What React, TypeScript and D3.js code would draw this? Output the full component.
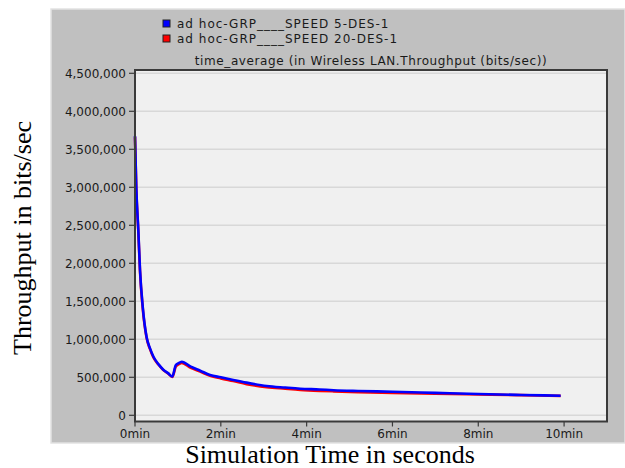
import React from "react";
import * as d3 from "d3";

const timesMin = [0, 0.03, 0.077, 0.117, 0.18, 0.27, 0.35, 0.43, 0.55, 0.66, 0.77, 0.87, 0.95, 1.0, 1.09, 1.3, 1.52, 1.75, 2.0, 2.29, 2.6, 3.07, 3.5, 3.85, 4.3, 4.63, 5.2, 6.0, 7.0, 8.0, 9.0, 9.92];
const speed5 = [3.675, 3.0, 2.44, 1.91, 1.43, 1.03, 0.88, 0.77, 0.67, 0.6, 0.555, 0.51, 0.66, 0.68, 0.705, 0.64, 0.587, 0.53, 0.5, 0.465, 0.43, 0.386, 0.365, 0.35, 0.34, 0.33, 0.32, 0.31, 0.295, 0.28, 0.268, 0.258];
const speed20 = [3.66, 2.98, 2.42, 1.89, 1.41, 1.02, 0.87, 0.76, 0.665, 0.595, 0.55, 0.505, 0.64, 0.665, 0.69, 0.625, 0.575, 0.52, 0.485, 0.45, 0.41, 0.37, 0.35, 0.335, 0.322, 0.315, 0.305, 0.295, 0.285, 0.275, 0.265, 0.255];
const yTicks = [0, 500000, 1000000, 1500000, 2000000, 2500000, 3000000, 3500000, 4000000, 4500000];
const xTicks = [0, 2, 4, 6, 8, 10];
const seriesNames = ["ad hoc-GRP____SPEED 5-DES-1", "ad hoc-GRP____SPEED 20-DES-1"];
const seriesColors = ["#0000ff", "#ff0000"];
const chartTitle = "time_average (in Wireless LAN.Throughput (bits/sec))";

export default function App() {
  const W = 625, H = 468;
  const x = d3.scaleLinear().domain([0, 11]).range([135, 607]);
  const y = d3.scaleLinear().domain([0, 4500000]).range([415.3, 73.3]);
  const frameTop = 70, frameBottom = 421.5, frameLeft = 135, frameRight = 607;
  const line = d3
    .line<[number, number]>()
    .x((d) => x(d[0]))
    .y((d) => y(d[1] * 1e6))
    .curve(d3.curveMonotoneX);
  const blue = timesMin.map((t, i) => [t, speed5[i]] as [number, number]);
  const red = timesMin.map((t, i) => [t, speed20[i]] as [number, number]);
  const fmt = d3.format(",");
  const sans = "'DejaVu Sans', sans-serif";
  const serif = "'Liberation Serif', 'Times New Roman', serif";
  return (
    <svg width={W} height={H} style={{ position: "absolute", left: 0, top: 0, background: "#fff" }}>
      <rect x={51} y={9} width={574} height={434} fill="#c0c0c0" stroke="#e2e2e2" strokeWidth={1.5} />
      <rect x={frameLeft} y={frameTop} width={frameRight - frameLeft} height={frameBottom - frameTop} fill="#f0f0f0" />
      {yTicks.map((t) => (
        <line key={"g" + t} x1={frameLeft} x2={frameRight} y1={y(t)} y2={y(t)} stroke="#d8d8d8" strokeWidth={1.5} />
      ))}
      <path d={line(red) || ""} fill="none" stroke={seriesColors[1]} strokeWidth={2.6} />
      <path d={line(blue) || ""} fill="none" stroke={seriesColors[0]} strokeWidth={2.6} />
      <rect x={frameLeft} y={frameTop} width={frameRight - frameLeft} height={frameBottom - frameTop} fill="none" stroke="#3a3a3a" strokeWidth={2} />
      {yTicks.map((t) => (
        <g key={"y" + t}>
          <line x1={129} x2={frameLeft} y1={y(t)} y2={y(t)} stroke="#3a3a3a" strokeWidth={1.2} />
          <text x={126} y={y(t) + 4.5} textAnchor="end" fontFamily={sans} fontSize={12} fill="#1a1a1a">
            {fmt(t)}
          </text>
        </g>
      ))}
      {xTicks.map((t) => (
        <g key={"x" + t}>
          <line x1={x(t)} x2={x(t)} y1={frameBottom} y2={frameBottom + 5} stroke="#3a3a3a" strokeWidth={1.2} />
          <text x={x(t)} y={438} textAnchor="middle" fontFamily={sans} fontSize={12} fill="#1a1a1a">
            {t + "min"}
          </text>
        </g>
      ))}
      {seriesNames.map((n, i) => (
        <g key={n}>
          <rect x={163} y={20 + i * 15} width={7} height={7} fill={seriesColors[i]} stroke="#222" strokeWidth={1} />
          <text x={177} y={27.5 + i * 15} fontFamily={sans} fontSize={12} letterSpacing={1} fill="#1a1a1a">
            {n}
          </text>
        </g>
      ))}
      <text x={371} y={65} textAnchor="middle" fontFamily={sans} fontSize={12} letterSpacing={0.6} fill="#1a1a1a">
        {chartTitle}
      </text>
      <text x={330} y={463} textAnchor="middle" fontFamily={serif} fontSize={26} fill="#000">
        Simulation Time in seconds
      </text>
      <text transform="translate(31,238) rotate(-90)" textAnchor="middle" fontFamily={serif} fontSize={26} fill="#000">
        Throughput in bits/sec
      </text>
    </svg>
  );
}
